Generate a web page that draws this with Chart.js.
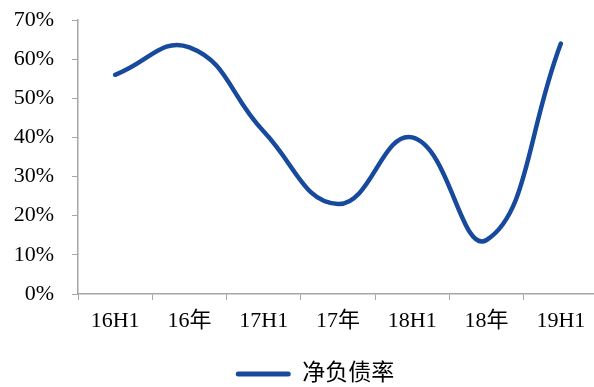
<!DOCTYPE html>
<html>
<head>
<meta charset="utf-8">
<script src="https://cdn.jsdelivr.net/npm/chart.js@4/dist/chart.umd.min.js"></script>
<style>
html,body{margin:0;padding:0;background:#fff;overflow:hidden;}
#wrap{width:600px;height:387px;position:relative;}
</style>
</head>
<body>
<div id="wrap"><canvas id="c" width="600" height="387"></canvas></div>
<script>
const categories = ['16H1','16年','17H1','17年','18H1','18年','19H1'];
const netDebtRatio = [56, 63, 41.5, 23, 40, 13.8, 64];
const yTicks = [0,10,20,30,40,50,60,70];
const seriesName = '净负债率';

const FONT = '"Liberation Serif", "Times New Roman", "Noto Sans CJK SC", serif';
const lineColor = '#174a9c';
const axisColor = '#a6a6a6';
const AREA_TOP = 20, AREA_BOTTOM = 294, LEGEND_CY = 377, LEGEND_SHIFT_X = 16;

const placeLegend = {
  id: 'placeLegend',
  afterLayout(chart) {
    const lg = chart.legend;
    if (!lg) return;
    const dy = LEGEND_CY - (lg.top + lg.bottom) / 2;
    lg.top += dy; lg.bottom += dy;
    lg.left += LEGEND_SHIFT_X; lg.right += LEGEND_SHIFT_X;
  }
};

new Chart(document.getElementById('c'), {
  type: 'line',
  data: {
    labels: categories,
    datasets: [{
      label: seriesName,
      data: netDebtRatio,
      borderColor: lineColor,
      backgroundColor: lineColor,
      borderWidth: 4.5,
      tension: 0.45,
      cubicInterpolationMode: 'default',
      pointRadius: 0,
      borderCapStyle: 'round',
      fill: false
    }]
  },
  plugins: [placeLegend],
  options: {
    responsive: false,
    animation: false,
    devicePixelRatio: 1,
    layout: { padding: { top: AREA_TOP, right: 2, left: 0, bottom: 0 } },
    scales: {
      x: {
        offset: true,
        grid: { display: true, offset: true, drawOnChartArea: false, drawTicks: true, tickLength: 6, color: axisColor },
        border: { display: true, color: axisColor, width: 1.5 },
        ticks: { color: '#000', font: { family: FONT, size: 22 }, padding: 8, maxRotation: 0, autoSkip: false },
        afterFit: (s) => {
          const lh = s.chart.legend ? s.chart.legend.height : 0;
          s.height = 387 - AREA_BOTTOM - lh;
          s.paddingLeft = 0; s.paddingRight = 0;
        }
      },
      y: {
        min: 0, max: 70,
        afterBuildTicks: (s) => { s.ticks = yTicks.map(v => ({ value: v })); },
        grid: { display: true, drawOnChartArea: false, drawTicks: true, tickLength: 6, color: axisColor },
        border: { display: true, color: axisColor, width: 1.5 },
        ticks: { color: '#000', font: { family: FONT, size: 22 }, padding: 18, callback: (v) => v + '%' },
        afterFit: (s) => { s.width = 78; s.paddingTop = 0; s.paddingBottom = 0; }
      }
    },
    plugins: {
      legend: {
        position: 'bottom',
        labels: {
          color: '#000',
          font: { family: FONT, size: 23 },
          boxWidth: 55,
          boxHeight: 5,
          padding: 4,
          generateLabels: (chart) => chart.data.datasets.map((d, i) => ({
            text: d.label, fillStyle: lineColor, strokeStyle: lineColor, lineWidth: 0, datasetIndex: i, borderRadius: 2.5
          }))
        }
      },
      tooltip: { enabled: false }
    }
  }
});
</script>
</body>
</html>
